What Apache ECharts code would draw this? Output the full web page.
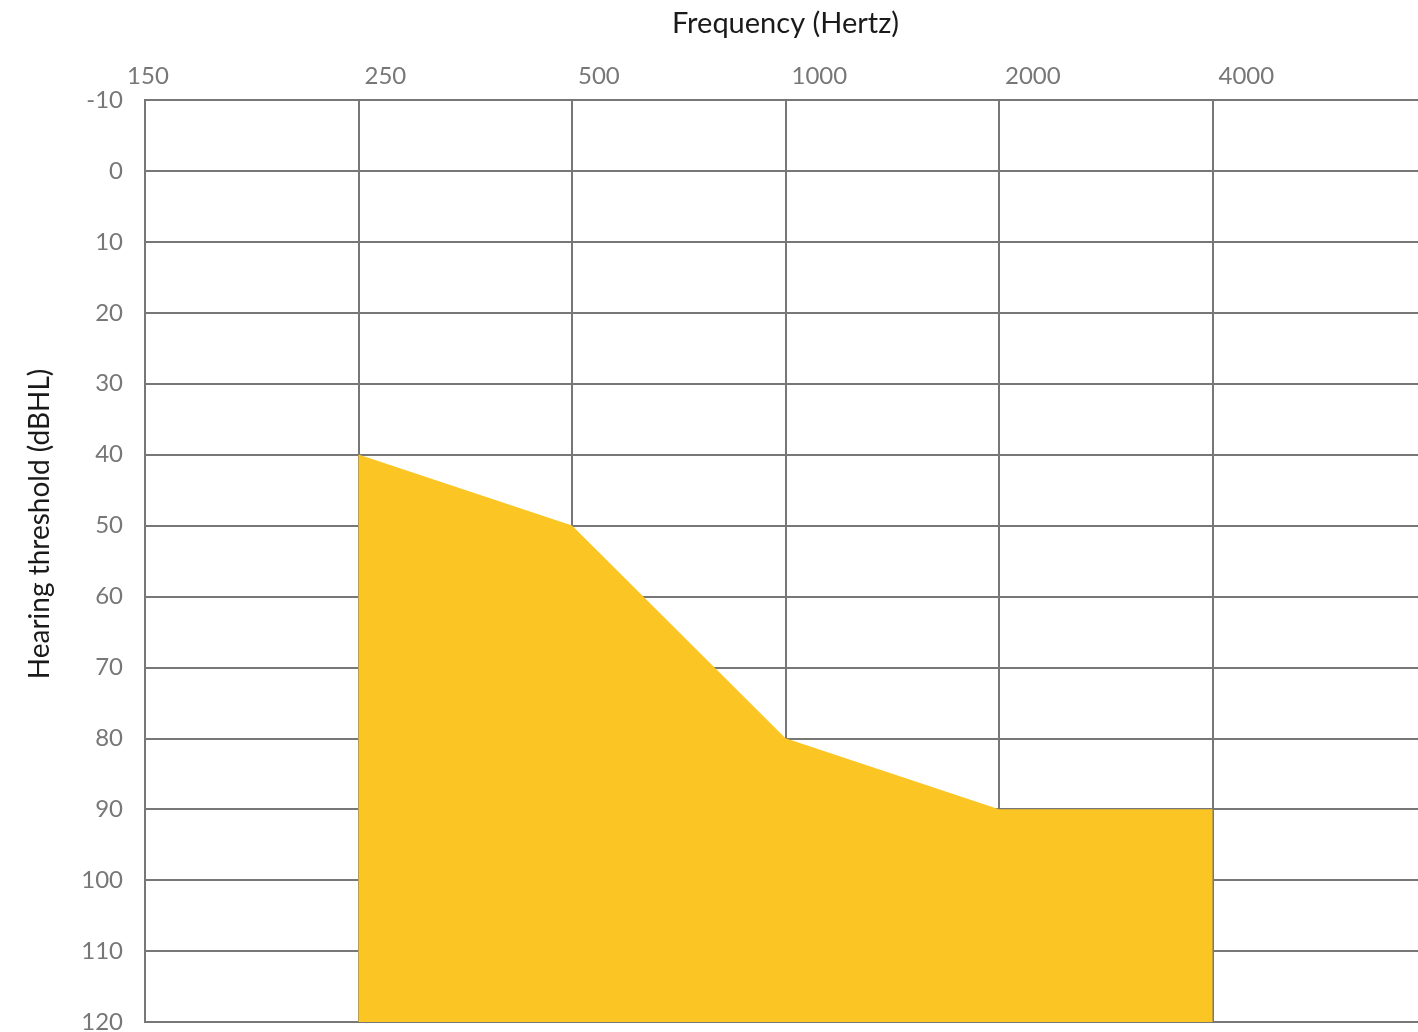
<!DOCTYPE html>
<html>
<head>
<meta charset="utf-8">
<title>Audiogram</title>
<script src="https://cdn.jsdelivr.net/npm/echarts@6/dist/echarts.min.js"></script>
<style>
  html, body { margin: 0; padding: 0; background: #fff; overflow: hidden; }
  #chart { width: 1418px; height: 1032px; }
</style>
</head>
<body>
<div id="chart"></div>
<script>
// frequency labels along the top axis (one per grid column)
const freqLabels = ['150', '250', '500', '1000', '2000', '4000'];
// hearing threshold (dBHL) at each frequency, null = not measured
const thresholds = [null, 40, 50, 80, 90, 90];
// threshold axis range
const dbMin = -10;
const dbMax = 120;

const chart = echarts.init(document.getElementById('chart'));

// points as [column index, threshold]
const points = [];
thresholds.forEach((v, i) => {
  if (v !== null) points.push([i, v]);
});

const font = 'Lato, "Open Sans", sans-serif';

const option = {
  animation: false,
  grid: {
    left: 145,
    width: 1281,   // last column runs off the right edge like the original
    top: 100,
    bottom: 10,
    containLabel: false,
    outerBoundsMode: 'none'
  },
  xAxis: {
    type: 'value',
    position: 'top',
    min: 0,
    max: 6,
    interval: 1,
    name: 'Frequency (Hertz)',
    nameLocation: 'middle',
    nameGap: 62,
    nameTextStyle: { color: '#1a1a1a', fontSize: 29, fontFamily: font },
    axisLine: { show: false },
    axisTick: { show: false },
    axisLabel: {
      color: '#777',
      fontSize: 24,
      fontFamily: font,
      align: 'left',
      margin: 12,
      padding: [0, 0, 0, 6],
      alignMinLabel: 'center',
      formatter: v => freqLabels[v] || ''
    },
    splitLine: { lineStyle: { color: '#777', width: 2 } }
  },
  yAxis: {
    type: 'value',
    inverse: true,
    min: dbMin,
    max: dbMax,
    interval: 10,
    axisLine: { show: false },
    axisTick: { show: false },
    axisLabel: {
      color: '#777',
      fontSize: 24,
      fontFamily: font,
      margin: 22
    },
    splitLine: { lineStyle: { color: '#777', width: 2 } }
  },
  graphic: [{
    type: 'text',
    x: 40,
    y: 524,
    rotation: Math.PI / 2,
    style: {
      text: 'Hearing threshold (dBHL)',
      fill: '#1a1a1a',
      font: '28px ' + font,
      align: 'center',
      verticalAlign: 'middle'
    }
  }, {
    // left border of the plot
    type: 'line',
    shape: { x1: 145, y1: 99, x2: 145, y2: 1023 },
    style: { stroke: '#777', lineWidth: 2 },
    z: 10
  }],
  series: [{
    type: 'line',
    data: points,
    symbol: 'none',
    lineStyle: { width: 0 },
    areaStyle: { color: '#FBC523', opacity: 1, origin: 'end' },
    z: 1
  }]
};

chart.setOption(option);
</script>
</body>
</html>
